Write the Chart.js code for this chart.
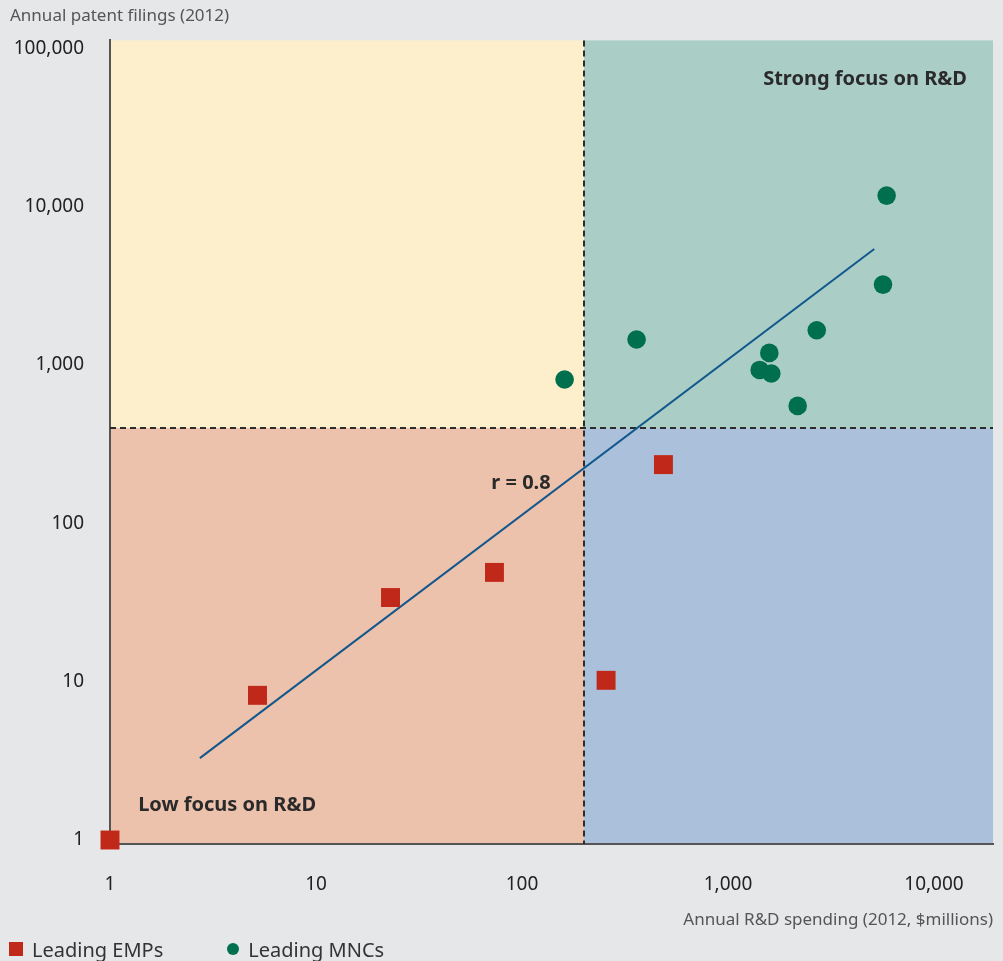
<!DOCTYPE html>
<html>
<head>
<meta charset="utf-8">
<script src="https://cdn.jsdelivr.net/npm/chart.js@4/dist/chart.umd.min.js"></script>
<style>
  html, body { margin: 0; padding: 0; background: #e6e7e9; }
  .wrap { position: relative; width: 1003px; height: 961px; overflow: hidden; }
  #chart { position: absolute; left: 0; top: 0; }
  .legend { position: absolute; left: 9px; top: 935px; height: 28px; display: flex; align-items: center;
    font: 20px 'Noto Sans', sans-serif; color: #333; white-space: nowrap; }
  .legend .item { display: flex; align-items: center; }
  .legend .item + .item { margin-left: 64px; }
  .legend .sq { width: 14px; height: 14px; background: #c0291a; margin-right: 9px; }
  .legend .dot { width: 12px; height: 12px; border-radius: 50%; background: #006f4e; margin-right: 9px; }
</style>
</head>
<body>
<div class="wrap">
  <canvas id="chart" width="1003" height="961"></canvas>
  <div class="legend">
    <span class="item"><span class="sq"></span>Leading EMPs</span>
    <span class="item"><span class="dot"></span>Leading MNCs</span>
  </div>
</div>
<script>
// R&D spending ($M) / patent filings, 2012
const empSpend = [1, 5.2, 23, 73.5, 256, 486];
const empPatents = [1, 8.2, 34, 49, 10.2, 235];
const mncSpend = [161, 360, 1425, 1587, 1623, 2179, 2697, 5656, 5890];
const mncPatents = [810, 1449, 931, 1193, 884, 552, 1659, 3222, 11750];
const fitSpend = [2.73, 5130];
const fitPatents = [3.29, 5410];

const tickValues = [1, 10, 100, 1000, 10000, 100000];
const spendSplit = 200;
const patentSplit = 400;

const notes = [
  { text: 'Strong focus on R&D', x: 14460, y: 63700, align: 'right' },
  { text: 'Low focus on R&D', x: 1.37, y: 1.66, align: 'left' },
  { text: 'r = 0.8', x: 98.9, y: 179, align: 'center' },
];

const FONT = "'Noto Sans', sans-serif";

function toPoints(xs, ys) {
  return xs.map((x, i) => ({ x, y: ys[i] }));
}

const quadrantPlugin = {
  id: 'quadrants',
  beforeDraw(chart) {
    const { ctx, chartArea: a, scales: { x, y } } = chart;
    const vx = x.getPixelForValue(spendSplit);
    const hy = y.getPixelForValue(patentSplit);
    ctx.save();
    ctx.fillStyle = '#fdeecc';
    ctx.fillRect(a.left, a.top, vx - a.left, hy - a.top);
    ctx.fillStyle = '#aacdc6';
    ctx.fillRect(vx, a.top, a.right - vx, hy - a.top);
    ctx.fillStyle = '#edc2ac';
    ctx.fillRect(a.left, hy, vx - a.left, a.bottom - hy);
    ctx.fillStyle = '#abc0da';
    ctx.fillRect(vx, hy, a.right - vx, a.bottom - hy);
    ctx.restore();
  },
  beforeDatasetsDraw(chart) {
    const { ctx, chartArea: a, scales: { x, y } } = chart;
    const vx = x.getPixelForValue(spendSplit);
    const hy = y.getPixelForValue(patentSplit);
    ctx.save();
    ctx.setLineDash([6, 4]);
    ctx.lineWidth = 2;
    ctx.strokeStyle = '#2b2b2b';
    ctx.beginPath();
    ctx.moveTo(a.left, hy);
    ctx.lineTo(a.right, hy);
    ctx.moveTo(vx, a.top);
    ctx.lineTo(vx, a.bottom);
    ctx.stroke();
    ctx.restore();
  },
  afterDatasetsDraw(chart) {
    const { ctx, scales: { x, y } } = chart;
    ctx.save();
    ctx.font = `bold 20px ${FONT}`;
    ctx.fillStyle = '#2a2a2a';
    ctx.textBaseline = 'middle';
    notes.forEach(n => {
      ctx.textAlign = n.align;
      ctx.fillText(n.text, x.getPixelForValue(n.x), y.getPixelForValue(n.y));
    });
    ctx.restore();
  },
};

new Chart(document.getElementById('chart'), {
  type: 'scatter',
  data: {
    datasets: [
      {
        label: 'Leading EMPs',
        data: toPoints(empSpend, empPatents),
        pointStyle: 'rect',
        pointRadius: 13.4,
        backgroundColor: '#c0291a',
        borderWidth: 0,
        clip: false,
      },
      {
        label: 'Leading MNCs',
        data: toPoints(mncSpend, mncPatents),
        pointStyle: 'circle',
        pointRadius: 9.3,
        backgroundColor: '#006f4e',
        borderWidth: 0,
      },
      {
        label: 'Fit',
        type: 'line',
        data: toPoints(fitSpend, fitPatents),
        borderColor: '#12578c',
        borderWidth: 2,
        pointRadius: 0,
        fill: false,
      },
    ],
  },
  options: {
    responsive: false,
    animation: false,
    events: [],
    layout: { autoPadding: false, padding: { left: 10, right: 10, top: 0, bottom: 26 } },
    plugins: {
      legend: { display: false },
      tooltip: { enabled: false },
      title: {
        display: true,
        text: 'Annual patent filings (2012)',
        align: 'start',
        color: '#555',
        font: { family: FONT, size: 17, weight: 'normal' },
        padding: { top: 6, bottom: 14 },
      },
    },
    scales: {
      x: {
        type: 'logarithmic',
        min: 1,
        max: 19340,
        afterBuildTicks: s => { s.ticks = tickValues.filter(v => v <= 10000).map(value => ({ value })); },
        afterFit: s => { s.height = 91; },
        grid: { display: false, drawTicks: false },
        border: { display: true, color: '#555', width: 2 },
        ticks: {
          padding: 29,
          color: '#222',
          font: { family: FONT, size: 19 },
          callback: v => Number(v).toLocaleString('en-US'),
        },
        title: {
          display: true,
          text: 'Annual R&D spending (2012, $millions)',
          align: 'end',
          color: '#555',
          font: { family: FONT, size: 17 },
          padding: { top: 0, bottom: 5 },
        },
      },
      y: {
        type: 'logarithmic',
        min: 0.9436,
        max: 112300,
        afterBuildTicks: s => { s.ticks = tickValues.map(value => ({ value })); },
        afterFit: s => { s.width = 100; },
        grid: { display: false, drawTicks: false },
        border: { display: true, color: '#555', width: 2 },
        ticks: {
          padding: 26,
          color: '#222',
          font: { family: FONT, size: 19 },
          callback: v => Number(v).toLocaleString('en-US'),
        },
      },
    },
  },
  plugins: [quadrantPlugin],
});
</script>
</body>
</html>
